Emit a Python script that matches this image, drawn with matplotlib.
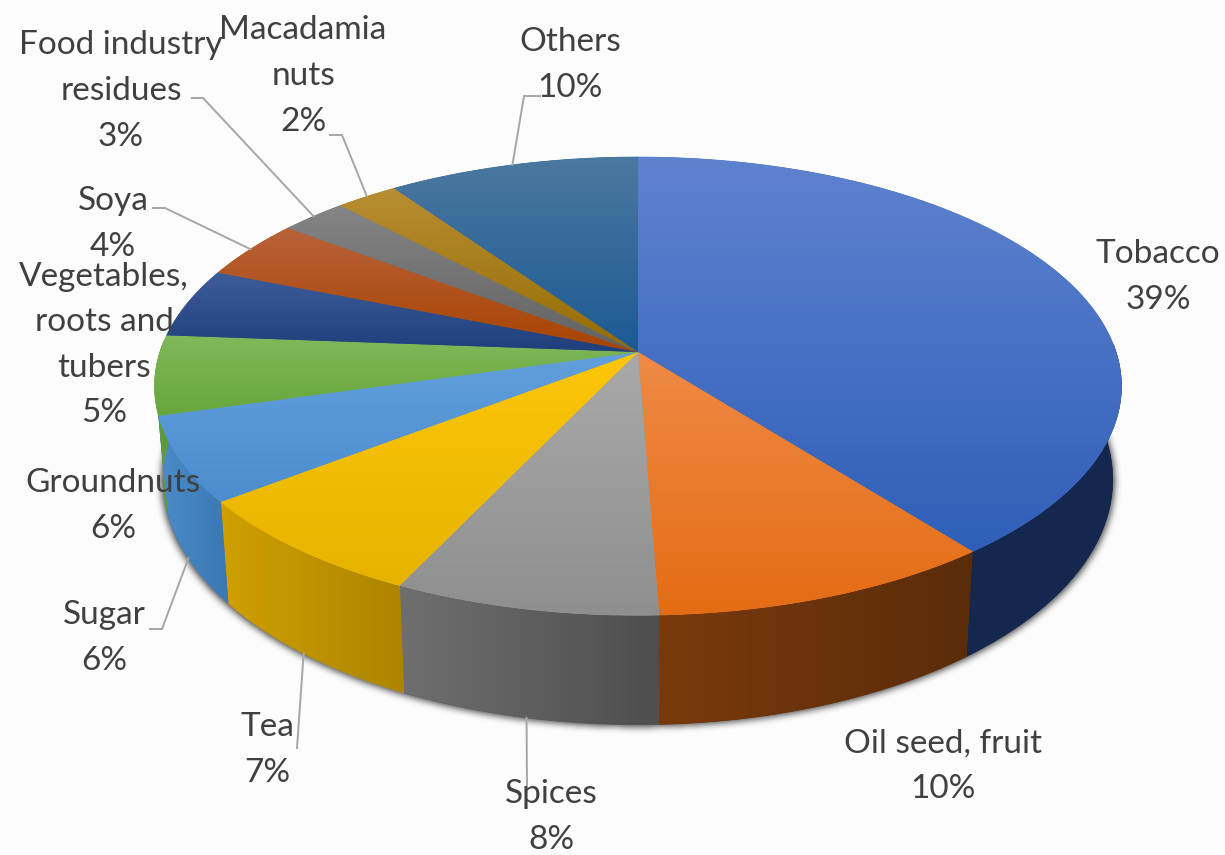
import numpy as np
import matplotlib
matplotlib.use("Agg")
import matplotlib.pyplot as plt
from matplotlib.colors import to_rgb, to_hex
from matplotlib.patches import Polygon
from matplotlib.path import Path

# ---- data (labels rounded as printed) ----
categories = ["Tobacco", "Oil seed, fruit", "Spices", "Tea", "Sugar", "Groundnuts",
              "Vegetables,\nroots and\ntubers", "Soya", "Food industry\nresidues",
              "Macadamia\nnuts", "Others"]
values = [39.4, 10.0, 7.7, 7.49, 6.01, 5.6, 4.9, 4.2, 2.6, 2.4, 9.7]
pct_labels = ["39%", "10%", "8%", "7%", "6%", "6%", "5%", "4%", "3%", "2%", "10%"]

# ---- styles ----
top_colors = [("#5f82cf", "#2f5fb8"), ("#ef8a45", "#e46c14"), ("#a9a9a9", "#8f8f8f"),
              ("#fdc608", "#e6b300"), ("#629fdc", "#4b8dce"), ("#80b95a", "#68a53a"),
              ("#3f5c9a", "#1e3f7c"), ("#b9623a", "#a84300"), ("#858585", "#626262"),
              ("#b88e34", "#946c00"), ("#4c789f", "#1c5a94")]
wall_colors = [("#14284f", "#14284f"), ("#7a3a0c", "#5a2c0a"), ("#6f6f6f", "#4e4e4e"),
               ("#d0a000", "#ac8400"), ("#4a8cca", "#3a78b2"), ("#5f9a38", "#5f9a38"),
               ("#1e3a70", "#1e3a70"), ("#8a3a08", "#8a3a08"), ("#555555", "#555555"),
               ("#8a6a10", "#8a6a10"), ("#1c4a78", "#1c4a78")]
label_pos = [(1158, 277), (943, 766), (551, 817), (267, 750), (104, 638), (113, 506),
             (104, 345), (113, 224), (121, 91), (303, 76), (570, 65)]
leader_elbows = {2: [(527, 787)], 3: [(297, 748)], 4: [(150, 629), (162, 629)],
                 7: [(153, 208), (165, 208)], 8: [(192, 98), (203, 98)],
                 9: [(330, 135), (342, 135)], 10: [(540, 96), (524, 96)]}
leader_on_bottom = {2, 3, 4}

W, H = 1225, 855
CX, CY, R, KY, P = 638.0, 352.0, 478.0, 224.0, 0.149
WALL_FROM, WALL_TO = np.radians(88), np.radians(273)   # part of the rim facing the viewer


def top_rim(theta):
    """Clockwise-from-north angle on the disc to picture pixels (perspective)."""
    x, y = np.sin(theta), np.cos(theta)
    s = 1 / (1 + P * y)
    return CX + R * x * s, CY - KY * y * s


def bottom_rim(theta):
    px, py = top_rim(theta)
    return CX + 0.982 * (px - CX), CY + 91 + 1.07 * (py - CY)


def mid_colour(c0, c1):
    return to_hex((np.array(to_rgb(c0)) + np.array(to_rgb(c1))) / 2)


def gradient_fill(ax, poly_xy, c0, c1, horizontal, zorder):
    poly_xy = np.asarray(poly_xy)
    x0, y0 = poly_xy.min(axis=0)
    x1, y1 = poly_xy.max(axis=0)
    # a solid base closes the seams between neighbouring slices
    ax.add_patch(Polygon(poly_xy, closed=True, fc=mid_colour(c0, c1), ec=mid_colour(c0, c1),
                         lw=0.5, zorder=zorder))
    t = np.linspace(0, 1, 128)
    c = np.outer(1 - t, to_rgb(c0)) + np.outer(t, to_rgb(c1))
    img = c[np.newaxis, :, :] if horizontal else c[:, np.newaxis, :]
    im = ax.imshow(img, extent=(x0, x1, y1, y0), aspect="auto", zorder=zorder + 0.1,
                   interpolation="bilinear")
    patch = Polygon(poly_xy, closed=True, transform=ax.transData, fc="none", ec="none")
    ax.add_patch(patch)
    im.set_clip_path(patch)


fig = plt.figure(figsize=(W / 100, H / 100), dpi=100, facecolor="#fcfcfc")
ax = fig.add_axes([0, 0, 1, 1])
ax.set_facecolor("#fcfcfc")
ax.axis("off")

edges = np.cumsum([0] + values) / sum(values) * 2 * np.pi

# soft drop shadow under the disc
full = np.linspace(0, 2 * np.pi, 400)
bx, by = bottom_rim(full)
shadow_path = Path(np.column_stack([CX + 1.004 * (bx - CX), by + 2]))
gx, gy = np.meshgrid(np.arange(W) + 0.5, np.arange(H) + 0.5)
mask = shadow_path.contains_points(np.column_stack([gx.ravel(), gy.ravel()])).reshape(H, W).astype(float)
kernel = np.ones(7) / 7
for _ in range(3):
    mask = np.apply_along_axis(lambda r: np.convolve(r, kernel, mode="same"), 0, mask)
    mask = np.apply_along_axis(lambda r: np.convolve(r, kernel, mode="same"), 1, mask)
rgba = np.zeros((H, W, 4))
rgba[..., :3] = 0.12
rgba[..., 3] = 0.85 * mask
ax.imshow(rgba, extent=(0, W, H, 0), aspect="auto", zorder=1, interpolation="bilinear")

# side walls (only the rim facing the viewer), then the top faces
for i in range(len(values)):
    a, b = max(edges[i], WALL_FROM), min(edges[i + 1], WALL_TO)
    if a >= b:
        continue
    th = np.linspace(a, b, 90)
    tx, ty = top_rim(th)
    bx, by = bottom_rim(th)
    wall = np.column_stack([np.r_[tx, bx[::-1]], np.r_[ty, by[::-1]]])
    gradient_fill(ax, wall, *wall_colors[i], True, 2)
for i in range(len(values)):
    th = np.linspace(edges[i], edges[i + 1], 90)
    tx, ty = top_rim(th)
    face = np.column_stack([np.r_[CX, tx], np.r_[CY, ty]])
    gradient_fill(ax, face, *top_colors[i], False, 3)

# leader lines
for i, elbow in leader_elbows.items():
    mid = (edges[i] + edges[i + 1]) / 2
    ex, ey = (bottom_rim if i in leader_on_bottom else top_rim)(mid)
    pts = elbow + [(ex, ey)]
    ax.plot([p[0] for p in pts], [p[1] for p in pts], color="#a6a6a6", lw=1.4, zorder=4,
            solid_joinstyle="miter")

# labels
for name, pct, (lx, ly) in zip(categories, pct_labels, label_pos):
    ax.text(lx, ly, f"{name}\n{pct}", ha="center", va="center", family="Lato",
            fontsize=24, color="#404040", linespacing=1.65, zorder=5)

ax.set_xlim(0, W)
ax.set_ylim(H, 0)
fig.savefig("out.png", dpi=100, facecolor=fig.get_facecolor())
